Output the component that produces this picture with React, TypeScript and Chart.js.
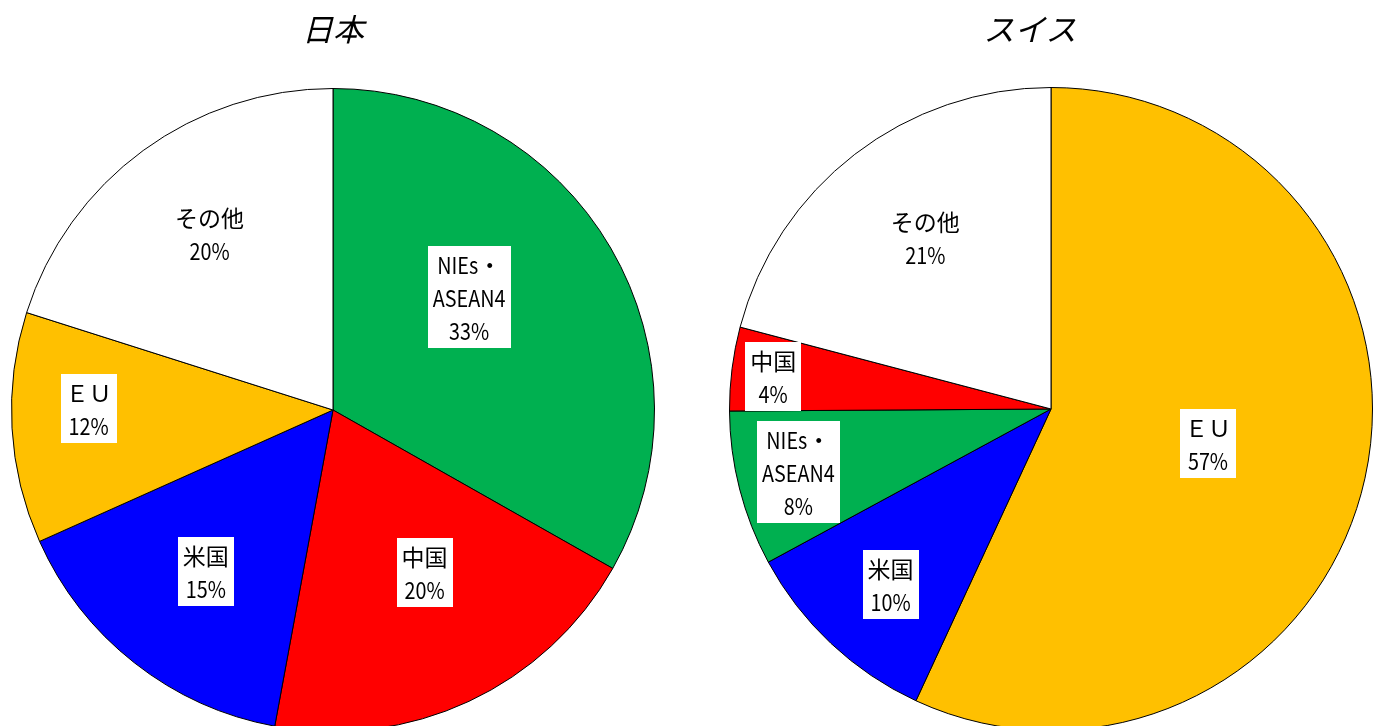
import React, { useEffect, useRef } from "react";
import { Chart, registerables } from "chart.js";

Chart.register(...registerables);

// ---- Data ----
const japanCategories = ["NIEs・\nASEAN4", "中国", "米国", "ＥＵ", "その他"];
const japanValues = [33.2, 19.7, 15.4, 11.6, 20.1];
const japanColors = ["#00B050", "#FF0000", "#0000FF", "#FFC000", "#FFFFFF"];

const swissCategories = ["ＥＵ", "米国", "NIEs・\nASEAN4", "中国", "その他"];
const swissValues = [56.9, 10.2, 7.8, 4.2, 20.9];
const swissColors = ["#FFC000", "#0000FF", "#00B050", "#FF0000", "#FFFFFF"];

// label placement (fraction of radius, angle offset in degrees)
const japanLabelRadius = [0.55, 0.58, 0.64, 0.76, 0.67];
const japanLabelAngle = [-9.4, -4.4, 0, 3.6, 1.2];
const swissLabelRadius = [0.5, 0.74, 0.81, 0.87, 0.66];
const swissLabelAngle = [0, -0.8, 0.4, -0.5, 1.3];

const LABEL_FONT = '23px "Noto Sans CJK JP", sans-serif';
const LATIN_SCALE = 0.86;
const TITLE_FONT = 'italic 31px "Noto Sans CJK JP", sans-serif';

function isWide(ch: string) {
  const c = ch.charCodeAt(0);
  return c >= 0x2e80;
}

function splitRuns(line: string) {
  const runs: { text: string; wide: boolean }[] = [];
  for (const ch of line) {
    const w = isWide(ch);
    if (runs.length && runs[runs.length - 1].wide === w) runs[runs.length - 1].text += ch;
    else runs.push({ text: ch, wide: w });
  }
  return runs;
}

function lineWidth(ctx: CanvasRenderingContext2D, line: string) {
  return splitRuns(line).reduce(
    (s, r) => s + ctx.measureText(r.text).width * (r.wide ? 1 : LATIN_SCALE),
    0
  );
}

function drawLine(ctx: CanvasRenderingContext2D, line: string, cx: number, y: number) {
  let x = cx - lineWidth(ctx, line) / 2;
  ctx.textAlign = "left";
  splitRuns(line).forEach((r) => {
    const sx = r.wide ? 1 : LATIN_SCALE;
    ctx.save();
    ctx.translate(x, y);
    ctx.scale(sx, 1);
    ctx.fillText(r.text, 0, 0);
    ctx.restore();
    x += ctx.measureText(r.text).width * sx;
  });
}

const labelPlugin = {
  id: "pieLabels",
  afterDatasetsDraw(chart: any) {
    const opts = chart.options.plugins.pieLabels;
    const ctx = chart.ctx;
    const meta = chart.getDatasetMeta(0);
    const data = chart.data.datasets[0].data as number[];
    const total = data.reduce((a: number, b: number) => a + b, 0);
    ctx.save();
    ctx.font = LABEL_FONT;
    ctx.textBaseline = "middle";
    const lh = 33;
    meta.data.forEach((arc: any, i: number) => {
      const p = arc.getProps(["x", "y", "startAngle", "endAngle", "outerRadius"], true);
      const mid = (p.startAngle + p.endAngle) / 2 + (opts.angles[i] * Math.PI) / 180;
      const rr = p.outerRadius * opts.radii[i];
      const x = p.x + Math.cos(mid) * rr;
      const y = p.y + Math.sin(mid) * rr;
      const lines = String(chart.data.labels[i]).split("\n");
      lines.push(Math.round((data[i] / total) * 100) + "%");
      let w = 0;
      lines.forEach((l) => (w = Math.max(w, lineWidth(ctx, l))));
      const bw = w + 10;
      const bh = lines.length * lh + 3;
      ctx.fillStyle = "#FFFFFF";
      ctx.fillRect(Math.round(x - bw / 2), Math.round(y - bh / 2), Math.round(bw), bh);
      ctx.fillStyle = "#000000";
      lines.forEach((l, j) => {
        drawLine(ctx, l, x, y - bh / 2 + 1.5 + lh * (j + 0.5) + 1);
      });
    });
    ctx.restore();
  },
  afterDraw(chart: any) {
    const opts = chart.options.plugins.pieLabels;
    const ctx = chart.ctx;
    ctx.save();
    ctx.font = TITLE_FONT;
    ctx.fillStyle = "#000000";
    ctx.textAlign = "center";
    ctx.textBaseline = "middle";
    ctx.fillText(opts.title, opts.titleX, 29);
    ctx.restore();
  },
};

function PieChart(props: {
  title: string;
  titleX: number;
  labels: string[];
  values: number[];
  colors: string[];
  radii: number[];
  angles: number[];
  padding: { left: number; right: number; top: number; bottom: number };
  left: number;
  width: number;
}) {
  const ref = useRef<HTMLCanvasElement>(null);
  useEffect(() => {
    if (!ref.current) return;
    const chart = new Chart(ref.current, {
      type: "pie",
      data: {
        labels: props.labels,
        datasets: [
          {
            data: props.values,
            backgroundColor: props.colors,
            borderColor: "#000000",
            borderWidth: 1,
          },
        ],
      },
      options: {
        animation: false,
        responsive: false,
        layout: { padding: props.padding },
        plugins: {
          legend: { display: false },
          tooltip: { enabled: false },
          title: { display: false },
          pieLabels: {
            title: props.title,
            titleX: props.titleX,
            radii: props.radii,
            angles: props.angles,
          },
        } as any,
      },
      plugins: [labelPlugin],
    });
    return () => chart.destroy();
  }, []);
  return (
    <canvas
      ref={ref}
      width={props.width}
      height={760}
      style={{ position: "absolute", left: props.left, top: 0, width: props.width, height: 760 }}
    />
  );
}

export default function App() {
  useEffect(() => {
    document.body.style.margin = "0";
    document.body.style.overflow = "hidden";
  }, []);
  return (
    <div
      style={{
        position: "fixed",
        left: 0,
        top: 0,
        width: 1381,
        height: 726,
        overflow: "hidden",
        background: "#FFFFFF",
      }}
    >
      <PieChart
        title="日本"
        titleX={333}
        labels={japanCategories}
        values={japanValues}
        colors={japanColors}
        radii={japanLabelRadius}
        angles={japanLabelAngle}
        padding={{ left: 11, right: 35, top: 88, bottom: 28 }}
        left={0}
        width={690}
      />
      <PieChart
        title="スイス"
        titleX={340}
        labels={swissCategories}
        values={swissValues}
        colors={swissColors}
        radii={swissLabelRadius}
        angles={swissLabelAngle}
        padding={{ left: 39, right: 8, top: 87, bottom: 29 }}
        left={690}
        width={691}
      />
    </div>
  );
}
